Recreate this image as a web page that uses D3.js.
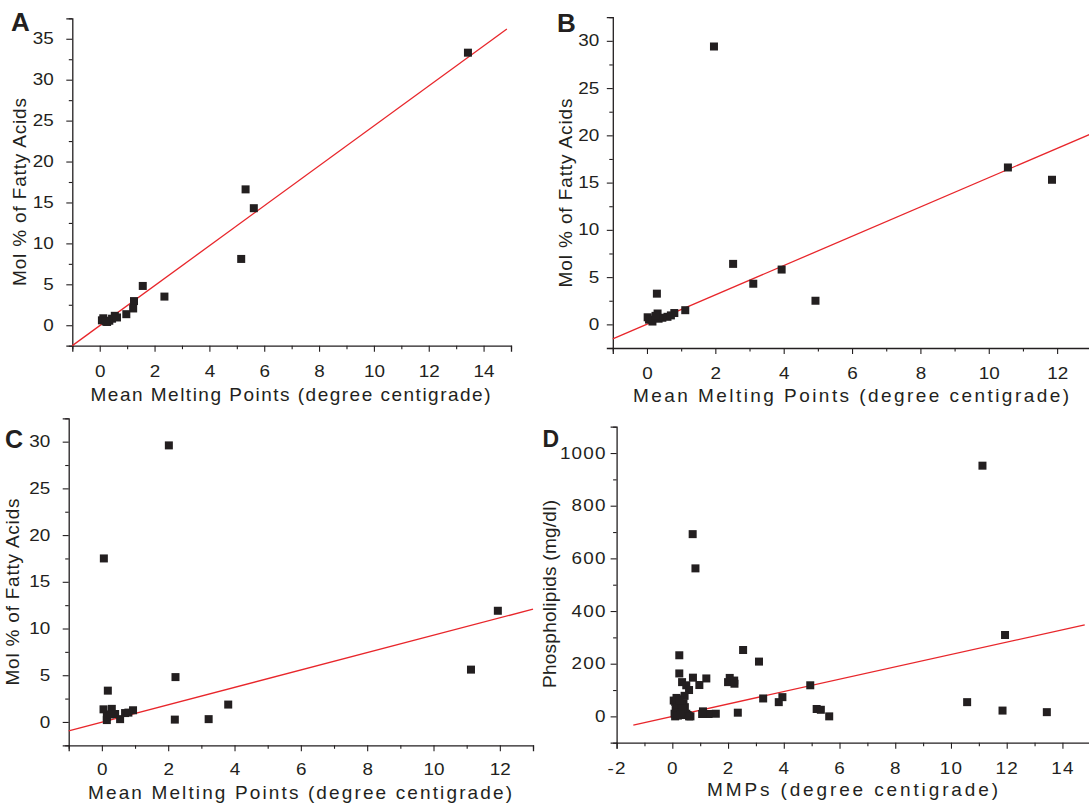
<!DOCTYPE html>
<html><head><meta charset="utf-8">
<script src="https://cdn.jsdelivr.net/npm/d3@7"></script>
<style>
html,body{margin:0;padding:0;background:#fff;}
svg{display:block;}
text{font-family:"Liberation Sans",Arial,Helvetica,sans-serif;fill:#231f20;}
</style></head>
<body>
<svg id="chart" width="1089" height="803"></svg>
<script>
// ---- Data ----
const panelLetters = ["A", "B", "C", "D"];
const xTitles = ["Mean Melting Points (degree centigrade)", "Mean Melting Points (degree centigrade)",
                 "Mean Melting Points (degree centigrade)", "MMPs (degree centigrade)"];
const yTitles = ["Mol % of Fatty Acids", "Mol % of Fatty Acids", "Mol % of Fatty Acids", "Phospholipids (mg/dl)"];

const aX = [13.43, 5.32, 5.62, 5.16, 2.36, 1.57, 1.25, 1.22, 0.97, 0.08, 0.13, 0.27, 0.35, 0.45, 0.55, 0.63, 0.22];
const aY = [33.3, 16.6, 14.3, 8.1, 3.5, 4.8, 2.95, 2.05, 1.35, 0.6, 0.85, 0.4, 0.55, 0.8, 1.15, 0.95, 0.45];

const bX = [1.96, 2.52, 3.11, 3.94, 4.93, 10.56, 11.85, 0.29, 1.12, 0.8, 0.02, 0.06, 0.16, 0.31, 0.34, 0.45, 0.6, 0.7, 0.25];
const bY = [29.4, 6.4, 4.3, 5.8, 2.5, 16.6, 15.3, 3.25, 1.5, 1.2, 0.75, 0.5, 0.3, 1.15, 0.6, 0.7, 0.8, 0.95, 0.9];

const cX = [2.02, 0.06, 11.94, 11.13, 2.22, 3.81, 3.22, 2.2, 0.18, 0.94, 0.05, 0.3, 0.15, 0.55, 0.15, 0.4, 0.7, 0.25, 0.8];
const cY = [29.6, 17.5, 11.9, 5.6, 4.8, 1.86, 0.3, 0.25, 3.35, 1.25, 1.35, 1.4, 0.2, 0.3, 0.55, 0.85, 0.95, 0.8, 1.0];

const dX = [11.13, 0.73, 0.83, 11.94, 2.54, 3.11, 0.25, 0.25, 4.95, 3.26, 3.95, 3.82, 10.58, 11.85, 13.44, 5.18, 5.33, 5.63,
            2.35, 2.0, 2.06, 2.22, 2.23, 1.22, 0.97, 0.74, 0.35, 0.5, 0.6, 0.44, 1.56, 1.3, 1.07, 1.1,
            0.05, 0.1, 0.15, 0.2, 0.25, 0.3, 0.35, 0.4, 0.45, 0.5, 0.55, 0.6, 0.65, 0.08, 0.12, 0.18, 0.22, 0.28, 0.33, 0.38,
            0.1, 0.2, 0.3, 0.15, 0.25];
const dY = [952, 692, 562, 309, 252, 208, 232, 163, 118, 68, 73, 54, 54, 22, 16, 28, 25, 0,
            14, 130, 146, 136, 124, 144, 119, 147, 130, 118, 100, 78, 10, 9, 9, 19,
            60, 55, 45, 65, 40, 30, 20, 50, 35, 10, 5, 0, 0, 10, 25, 35, 15, 5, 45,
            30, 0, 3, 8, 70, 60];

// linear fits (slope, intercept, x-start, x-end)
const fitSlope = [2.44, 1.55, 0.93, 23.5];
const fitIntercept = [-0.05, 0.02, -0.02, 0];
const fitXStart = [-1, -1, -1, -1.4];
const fitXEnd = [14.85, 13, 13, 14.8];

// axis domains and tick values
const xDomains = [[-1, 15], [-1, 13], [-1, 13], [-2, 15]];
const yDomains = [[-2.5, 37.5], [-2.5, 32.5], [-2.5, 32.5], [-100, 1100]];
const xTicksMajor = [[0, 2, 4, 6, 8, 10, 12, 14], [0, 2, 4, 6, 8, 10, 12], [0, 2, 4, 6, 8, 10, 12], [-2, 0, 2, 4, 6, 8, 10, 12, 14]];
const xTicksMinor = [[-1, 1, 3, 5, 7, 9, 11, 13, 15], [-1, 1, 3, 5, 7, 9, 11, 13], [-1, 1, 3, 5, 7, 9, 11, 13], [-1, 1, 3, 5, 7, 9, 11, 13, 15]];
const yTicksMajor = [[0, 5, 10, 15, 20, 25, 30, 35], [0, 5, 10, 15, 20, 25, 30], [0, 5, 10, 15, 20, 25, 30], [0, 200, 400, 600, 800, 1000]];
const yTicksMinor = [[-2.5, 2.5, 7.5, 12.5, 17.5, 22.5, 27.5, 32.5, 37.5], [-2.5, 2.5, 7.5, 12.5, 17.5, 22.5, 27.5, 32.5],
                     [-2.5, 2.5, 7.5, 12.5, 17.5, 22.5, 27.5, 32.5], [-100, 100, 300, 500, 700, 900, 1100]];

const seriesX = [aX, bX, cX, dX];
const seriesY = [aY, bY, cY, dY];

// ---- Layout (pixels) ----
const layout = [
  {x0: 72.3, x1: 511, y0: 345.7, y1: 18.3, letter: [11, 31, 26], xt: [290.5, 401, 400], yt: [26, 192, 188], yLab: 18.6, xLab: 31, ls: 0},
  {x0: 612.8, x1: 1091.3, y0: 348, y1: 17.2, letter: [557, 31.5, 26], xt: [851, 401.5, 436], yt: [571.5, 193, 189], yLab: 13.5, xLab: 31, ls: 0},
  {x0: 68.7, x1: 533, y0: 745.3, y1: 418.3, letter: [5, 448, 25], xt: [300, 798.5, 424], yt: [19, 592, 187], yLab: 18.5, xLab: 29.5, ls: 0},
  {x0: 616.6, x1: 1090.3, y0: 742.7, y1: 426.7, letter: [542.5, 446.7, 23], xt: [852.5, 796, 291], yt: [556, 594, 188], yLab: 10, xLab: 31, ls: 1}
];

const svg = d3.select("#chart");
const ink = "#231f20";
const fs = 16, sx = 1.18;
const fmt = d => String(d);

layout.forEach((L, i) => {
  const g = svg.append("g");
  const x = d3.scaleLinear().domain(xDomains[i]).range([L.x0, L.x1]);
  const y = d3.scaleLinear().domain(yDomains[i]).range([L.y0, L.y1]);

  g.append("g").attr("transform", `translate(0,${L.y0})`)
    .call(d3.axisBottom(x).tickValues(xTicksMajor[i]).tickSize(6).tickPadding(L.xLab - 6 - 0.71 * fs).tickFormat(fmt));
  g.append("g").attr("transform", `translate(0,${L.y0})`)
    .call(d3.axisBottom(x).tickValues(xTicksMinor[i]).tickSize(3.5).tickFormat(""))
    .select(".domain").remove();
  g.append("g").attr("transform", `translate(${L.x0},0)`)
    .call(d3.axisLeft(y).tickValues(yTicksMajor[i]).tickSize(6).tickPadding(L.yLab - 6).tickFormat(fmt));
  g.append("g").attr("transform", `translate(${L.x0},0)`)
    .call(d3.axisLeft(y).tickValues(yTicksMinor[i]).tickSize(3.5).tickFormat(""))
    .select(".domain").remove();

  g.selectAll(".domain").attr("stroke", ink).attr("stroke-width", 1.3);
  g.selectAll(".tick line").attr("stroke", ink).attr("stroke-width", 1.1);
  g.selectAll(".tick text").attr("font-size", fs).attr("fill", ink)
    .attr("font-family", "Liberation Sans, Arial, sans-serif")
    .style("letter-spacing", L.ls + "px")
    .each(function () {
      const t = d3.select(this);
      const xx = +t.attr("x") || 0;
      t.attr("x", xx / sx).attr("transform", `scale(${sx},1)`);
    });

  // fit line
  const lf = [fitXStart[i], fitXEnd[i]];
  g.append("line")
    .attr("x1", x(lf[0])).attr("y1", y(fitSlope[i] * lf[0] + fitIntercept[i]))
    .attr("x2", x(lf[1])).attr("y2", y(fitSlope[i] * lf[1] + fitIntercept[i]))
    .attr("stroke", "#e8262b").attr("stroke-width", 1.3);

  // points
  const pts = seriesX[i].map((v, k) => [v, seriesY[i][k]]);
  const s = 8;
  g.selectAll("rect.pt").data(pts).enter().append("rect").attr("class", "pt")
    .attr("x", d => x(d[0]) - s / 2).attr("y", d => y(d[1]) - s / 2)
    .attr("width", s).attr("height", s).attr("fill", ink);

  // titles
  g.append("text").attr("x", L.xt[0]).attr("y", L.xt[1]).attr("text-anchor", "middle")
    .attr("font-size", 19).attr("textLength", L.xt[2]).attr("lengthAdjust", "spacing").text(xTitles[i]);
  g.append("text").attr("transform", `translate(${L.yt[0]},${L.yt[1]}) rotate(-90)`).attr("text-anchor", "middle")
    .attr("font-size", 19).attr("textLength", L.yt[2]).attr("lengthAdjust", "spacing").text(yTitles[i]);
  g.append("text").attr("x", L.letter[0]).attr("y", L.letter[1]).attr("font-size", L.letter[2]).attr("font-weight", "bold")
    .text(panelLetters[i]);
});
</script>
</body></html>
